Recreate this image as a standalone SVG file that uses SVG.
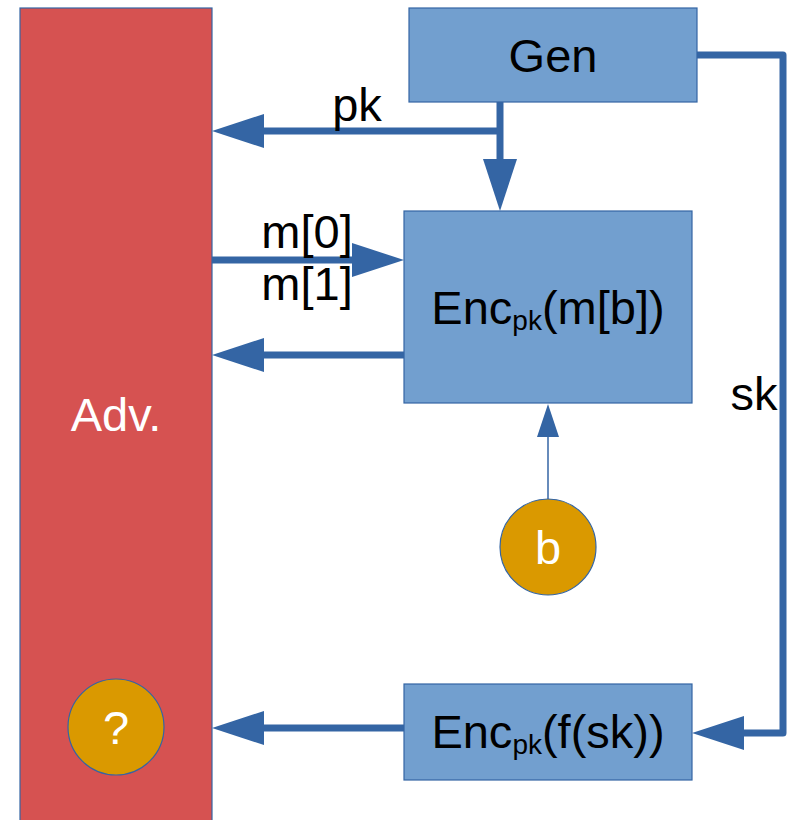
<svg xmlns="http://www.w3.org/2000/svg" width="795" height="820" viewBox="0 0 795 820">
<style>
.box{fill:#729fcf;stroke:#3465a4;stroke-width:1.2}
.adv{fill:#d65251;stroke:#3465a4;stroke-width:1.2}
.circ{fill:#da9900;stroke:#3465a4;stroke-width:1.2}
.t{font-family:"Liberation Sans",Arial,sans-serif;font-size:47px;fill:#000}
.w{fill:#fff}
.sub{font-size:28px}
.conn{fill:none;stroke:#3465a4;stroke-width:7;stroke-linejoin:round}
.thin{fill:none;stroke:#3465a4;stroke-width:1.5}
</style>
<defs>
<marker id="ah" markerUnits="userSpaceOnUse" markerWidth="60" markerHeight="40" refX="0" refY="17" orient="auto" overflow="visible">
<path d="M0,0 L52,17 L0,34 z" fill="#3465a4"/>
</marker>
<marker id="ahs" markerUnits="userSpaceOnUse" markerWidth="40" markerHeight="30" refX="0" refY="11" orient="auto" overflow="visible">
<path d="M0,0 L33,11 L0,22 z" fill="#3465a4"/>
</marker>
</defs>
<g id="adv">
<rect class="adv" x="20" y="8" width="192" height="830"/>
<text class="t w" x="116" y="431" text-anchor="middle">Adv.</text>
</g>
<g id="q">
<circle class="circ" cx="116" cy="727" r="48"/>
<text class="t w" x="116" y="744" text-anchor="middle">?</text>
</g>
<g id="gen">
<rect class="box" x="409" y="8" width="288" height="94"/>
<text class="t" x="553" y="72" text-anchor="middle">Gen</text>
</g>
<g id="enc1">
<rect class="box" x="404" y="211" width="288" height="192"/>
<text class="t" x="548" y="324" text-anchor="middle">Enc<tspan class="sub" dy="6">pk</tspan><tspan dy="-6">(m[b])</tspan></text>
</g>
<g id="enc2">
<rect class="box" x="404" y="684" width="288" height="96"/>
<text class="t" x="548" y="748" text-anchor="middle">Enc<tspan class="sub" dy="6">pk</tspan><tspan dy="-6">(f(sk))</tspan></text>
</g>
<g id="b">
<circle class="circ" cx="548" cy="547" r="48"/>
<text class="t w" x="548" y="564" text-anchor="middle">b</text>
</g>
<g id="connectors">
<path class="conn" d="M500,131 H264" marker-end="url(#ah)"/>
<path class="conn" d="M500,102 V159" marker-end="url(#ah)"/>
<path class="conn" d="M212,260 H352" marker-end="url(#ah)"/>
<path class="conn" d="M404,355 H264" marker-end="url(#ah)"/>
<path class="conn" d="M404,728 H264" marker-end="url(#ah)"/>
<path class="conn" d="M697,55 H783 V733 H744" marker-end="url(#ah)"/>
<path class="thin" d="M548,499 V437" marker-end="url(#ahs)"/>
<text class="t" x="357" y="121" text-anchor="middle">pk</text>
<text class="t" x="307" y="248" text-anchor="middle">m[0]</text>
<text class="t" x="307" y="300" text-anchor="middle">m[1]</text>
<text class="t" x="754" y="410" text-anchor="middle">sk</text>
</g>
</svg>
